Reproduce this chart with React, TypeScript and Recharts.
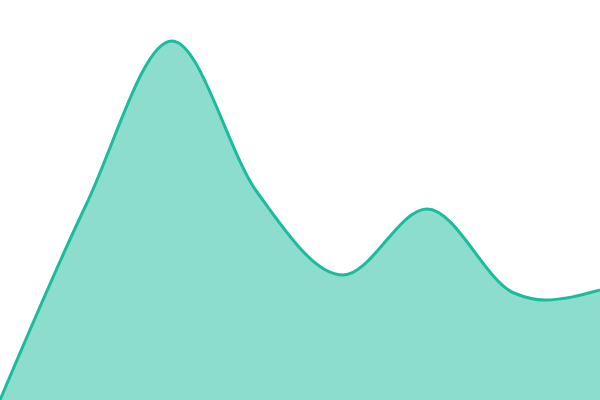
import { Area, AreaChart, XAxis, YAxis } from "recharts";

// x positions and values
const xs = [0, 86, 172, 257, 343, 427, 514, 545, 600];
const values = [0, 195, 359, 208, 125, 191, 107, 100, 110];

const data = xs.map((x, i) => ({ x, value: values[i] }));

export default function App() {
  return (
    <div style={{ width: 600, height: 400 }}>
      <style>{`body { margin: 0; }`}</style>
      <AreaChart width={600} height={400} data={data} margin={{ top: 0, right: 0, bottom: 0, left: 0 }}>
        <XAxis dataKey="x" type="number" domain={[0, 600]} hide />
        <YAxis hide domain={[0, 400]} />
        <Area
          type="monotone"
          dataKey="value"
          stroke="#1abc9c"
          strokeWidth={3}
          fill="#1abc9c"
          fillOpacity={0.5}
          dot={false}
          activeDot={false}
          isAnimationActive={false}
        />
      </AreaChart>
    </div>
  );
}
